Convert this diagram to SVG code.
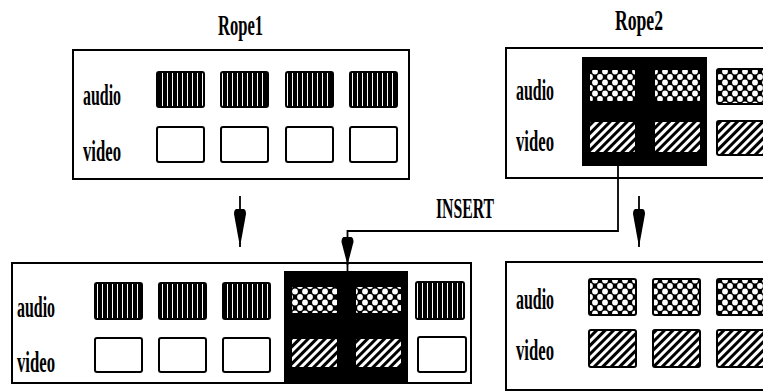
<svg xmlns="http://www.w3.org/2000/svg" width="763" height="392" viewBox="0 0 763 392">
<style>
  .box{fill:#fff;stroke:#000;stroke-width:2}
  .obox{fill:none;stroke:#000;stroke-width:2}
  .blk{fill:#000}
  .t{font-family:"Liberation Serif","Times New Roman",serif;font-size:30px;font-weight:bold;fill:#000}
  .vb{fill:url(#vbars);stroke:#000;stroke-width:2}
  .xh{fill:url(#xh);stroke:#000;stroke-width:2}
  .dh{fill:url(#dh);stroke:#000;stroke-width:2}
  .wc{fill:#fff;stroke:#000;stroke-width:2}
  .ln{fill:none;stroke:#000;stroke-width:1.8}
</style>
<defs>
  <pattern id="vbars" width="5" height="10" patternUnits="userSpaceOnUse">
    <rect width="5" height="10" fill="#000"/>
    <rect x="2" width="1" height="10" fill="#fff"/>
  </pattern>
  <pattern id="xh" width="10" height="11" patternUnits="userSpaceOnUse">
    <rect width="10" height="11" fill="#000"/>
    <g fill="#fff">
      <circle cx="5" cy="5.5" r="2.9"/>
      <circle cx="0" cy="0" r="2.9"/>
      <circle cx="10" cy="0" r="2.9"/>
      <circle cx="0" cy="11" r="2.9"/>
      <circle cx="10" cy="11" r="2.9"/>
    </g>
  </pattern>
  <pattern id="dh" width="6" height="6" patternUnits="userSpaceOnUse" patternTransform="rotate(45)">
    <rect width="6" height="6" fill="#fff"/>
    <rect width="3" height="6" fill="#000"/>
  </pattern>
  <marker id="ah" markerWidth="40" markerHeight="14" refX="38" refY="7" orient="auto" markerUnits="userSpaceOnUse">
    <path d="M0,3 Q1,1 5,1 L38,7 L5,13 Q1,13 0,11 Z" fill="#000"/>
  </marker>
  <marker id="ah2" markerWidth="30" markerHeight="14" refX="28" refY="7" orient="auto" markerUnits="userSpaceOnUse">
    <path d="M0,3 Q1,1 5,1 L28,7 L5,13 Q1,13 0,11 Z" fill="#000"/>
  </marker>
</defs>

<g id="rope1">
  <text class="t" x="218" y="35" textLength="45" lengthAdjust="spacingAndGlyphs">Rope1</text>
  <rect class="box" x="73" y="50" width="336" height="129"/>
  <text class="t" x="83" y="105" textLength="38" lengthAdjust="spacingAndGlyphs">audio</text>
  <text class="t" x="83" y="161" textLength="38" lengthAdjust="spacingAndGlyphs">video</text>
  <rect class="vb" x="157" y="72" width="47" height="35" rx="2"/>
  <rect class="vb" x="221" y="72" width="47" height="35" rx="2"/>
  <rect class="vb" x="286" y="72" width="47" height="35" rx="2"/>
  <rect class="vb" x="350" y="72" width="47" height="35" rx="2"/>
  <rect class="wc" x="157" y="127" width="47" height="35" rx="2"/>
  <rect class="wc" x="221" y="127" width="47" height="35" rx="2"/>
  <rect class="wc" x="286" y="127" width="47" height="35" rx="2"/>
  <rect class="wc" x="350" y="127" width="47" height="35" rx="2"/>
</g>

<g id="rope2">
  <text class="t" x="615" y="30" textLength="48" lengthAdjust="spacingAndGlyphs">Rope2</text>
  <path class="obox" d="M764,48 H506 V178 H764"/>
  <text class="t" x="516" y="100" textLength="38" lengthAdjust="spacingAndGlyphs">audio</text>
  <text class="t" x="516" y="151" textLength="38" lengthAdjust="spacingAndGlyphs">video</text>
  <rect class="blk" x="582" y="57" width="125" height="109"/>
  <rect class="xh" x="589" y="69" width="47" height="33" rx="2"/>
  <rect class="xh" x="654" y="69" width="47" height="33" rx="2"/>
  <rect class="xh" x="717" y="69" width="47" height="35" rx="2"/>
  <rect class="dh" x="589" y="121" width="47" height="32" rx="2"/>
  <rect class="dh" x="654" y="121" width="47" height="32" rx="2"/>
  <rect class="dh" x="717" y="121" width="47" height="34" rx="2"/>
</g>

<g id="result-insert">
  <rect class="box" x="12" y="263" width="459" height="120"/>
  <text class="t" x="17" y="317" textLength="38" lengthAdjust="spacingAndGlyphs">audio</text>
  <text class="t" x="17" y="372" textLength="38" lengthAdjust="spacingAndGlyphs">video</text>
  <rect class="vb" x="95" y="283" width="47" height="36" rx="2"/>
  <rect class="vb" x="159" y="283" width="47" height="36" rx="2"/>
  <rect class="vb" x="223" y="283" width="47" height="36" rx="2"/>
  <rect class="wc" x="95" y="338" width="47" height="34" rx="2"/>
  <rect class="wc" x="159" y="338" width="47" height="34" rx="2"/>
  <rect class="wc" x="223" y="338" width="47" height="34" rx="2"/>
  <rect class="blk" x="284" y="271" width="124" height="111"/>
  <rect class="xh" x="291" y="286" width="47" height="28" rx="2"/>
  <rect class="xh" x="355" y="286" width="47" height="28" rx="2"/>
  <rect class="dh" x="291" y="338" width="47" height="30" rx="2"/>
  <rect class="dh" x="355" y="338" width="47" height="30" rx="2"/>
  <rect class="vb" x="416" y="282" width="48" height="37" rx="2"/>
  <rect class="wc" x="418" y="337" width="48" height="35" rx="2"/>
</g>

<g id="result-rope2">
  <path class="obox" d="M764,262 H506 V390 H764"/>
  <text class="t" x="516" y="309" textLength="38" lengthAdjust="spacingAndGlyphs">audio</text>
  <text class="t" x="516" y="360" textLength="38" lengthAdjust="spacingAndGlyphs">video</text>
  <rect class="xh" x="589" y="279" width="47" height="36" rx="2"/>
  <rect class="xh" x="653" y="279" width="47" height="36" rx="2"/>
  <rect class="xh" x="717" y="279" width="47" height="36" rx="2"/>
  <rect class="dh" x="589" y="330" width="47" height="37" rx="2"/>
  <rect class="dh" x="653" y="330" width="47" height="37" rx="2"/>
  <rect class="dh" x="717" y="330" width="47" height="37" rx="2"/>
</g>

<g id="connectors">
  <line class="ln" x1="240" y1="196" x2="240" y2="247" marker-end="url(#ah)"/>
  <line class="ln" x1="639" y1="196" x2="639" y2="247" marker-end="url(#ah)"/>
  <polyline class="ln" points="618,166 618,231 347.5,231 347.5,265" marker-end="url(#ah2)"/>
  <line class="ln" x1="347.5" y1="262" x2="347.5" y2="271"/>
  <text class="t" x="436" y="218" textLength="58" lengthAdjust="spacingAndGlyphs">INSERT</text>
</g>
</svg>
